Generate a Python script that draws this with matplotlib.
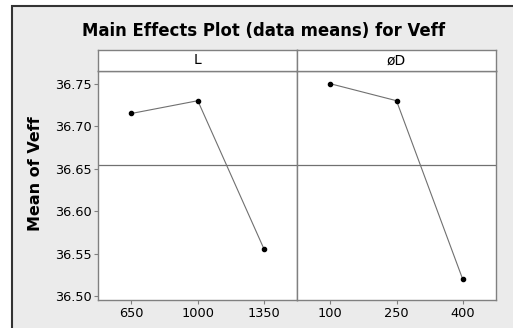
import numpy as np
import matplotlib.pyplot as plt
from matplotlib.patches import Rectangle

# factor levels and data means
L_levels = ['650', '1000', '1350']
L_means = [36.715, 36.730, 36.555]
D_levels = ['100', '250', '400']
D_means = [36.750, 36.730, 36.520]
grand_mean = 36.654
panel_names = ['L', 'øD']
y_ticks = [36.50, 36.55, 36.60, 36.65, 36.70, 36.75]

W, H = 513, 328
fig = plt.figure(figsize=(W/100, H/100), dpi=100, facecolor='white')

# grey background with dark border on top/left
fig.patches.append(Rectangle((11.5/W, -0.1), 1.2, (H-6)/H + 0.1, transform=fig.transFigure,
                             facecolor='#ebebeb', edgecolor='#333333', linewidth=1.5, zorder=-10))

fig.text(264/W, 1 - 31/H, 'Main Effects Plot (data means) for Veff', ha='center', va='center',
         fontsize=11.9, fontweight='bold')
fig.text(36/W, 1 - 174/H, 'Mean of Veff', ha='center', va='center', rotation=90,
         fontsize=11.5, fontweight='bold')

frame_c = '#808080'
x_edges = [98.3, 297.3, 495.7]
plot_top, plot_bot, strip_top = 71, 300, 50

for i, (levels, means) in enumerate([(L_levels, L_means), (D_levels, D_means)]):
    x0, x1 = x_edges[i], x_edges[i+1]
    ax = fig.add_axes([x0/W, 1 - plot_bot/H, (x1-x0)/W, (plot_bot-plot_top)/H])
    pos = np.arange(1, len(levels)+1)
    ax.plot(pos, means, color='#707070', linewidth=0.8, zorder=2)
    ax.scatter(pos, means, color='black', s=9, zorder=3)
    ax.axhline(grand_mean, color='#707070', linewidth=0.9, zorder=1)
    ax.set_xlim(0.5, 3.5)
    ax.set_ylim(36.4953, 36.765)
    ax.set_xticks(pos)
    ax.set_xticklabels(levels)
    ax.set_yticks(y_ticks)
    if i == 0:
        ax.set_yticklabels(['%.2f' % v for v in y_ticks])
        ax.tick_params(axis='y', length=3, color=frame_c, labelsize=9.3, pad=2)
    else:
        ax.tick_params(axis='y', left=False, labelleft=False)
    ax.tick_params(axis='x', length=3, color=frame_c, labelsize=9.3, pad=2)
    for s in ax.spines.values():
        s.set_color(frame_c)
        s.set_linewidth(1.0)

    sax = fig.add_axes([x0/W, 1 - plot_top/H, (x1-x0)/W, (plot_top-strip_top)/H])
    sax.set_xticks([])
    sax.set_yticks([])
    for s in sax.spines.values():
        s.set_color(frame_c)
        s.set_linewidth(1.0)
    sax.text(0.5, 0.5, panel_names[i], ha='center', va='center', fontsize=10,
             transform=sax.transAxes)

fig.savefig('out.png', dpi=100, facecolor='white')
